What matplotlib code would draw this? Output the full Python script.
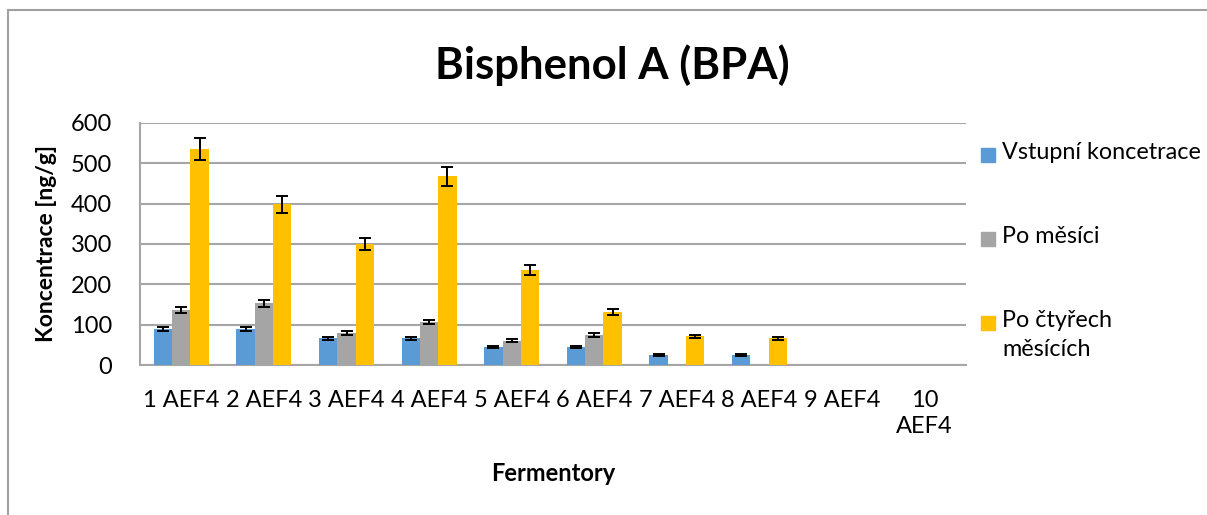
import numpy as np
import matplotlib
matplotlib.use('Agg')
from matplotlib import pyplot as plt
from matplotlib.patches import Rectangle
from matplotlib.lines import Line2D

plt.rcParams['font.family'] = ['Lato', 'DejaVu Sans']

# data
fermentors = ['1 AEF4', '2 AEF4', '3 AEF4', '4 AEF4', '5 AEF4',
              '6 AEF4', '7 AEF4', '8 AEF4', '9 AEF4', '10\nAEF4']
vstupni = [89, 89, 66, 66, 45, 45, 25, 25, np.nan, np.nan]
vstupni_err = [4, 4, 3, 3, 2, 2, 1.5, 1.5, np.nan, np.nan]
po_mesici = [136, 153, 80, 106, 60, 74, np.nan, np.nan, np.nan, np.nan]
po_mesici_err = [7, 8, 5, 5, 4, 5, np.nan, np.nan, np.nan, np.nan]
po_ctyrech = [536, 398, 300, 468, 235, 132, 71, 66, np.nan, np.nan]
po_ctyrech_err = [27, 20, 15, 23, 12, 7, 4, 4, np.nan, np.nan]

series = [
    ('Vstupní koncetrace', vstupni, vstupni_err, '#5B9BD5'),
    ('Po měsíci', po_mesici, po_mesici_err, '#A5A5A5'),
    ('Po čtyřech\nměsících', po_ctyrech, po_ctyrech_err, '#FFC000'),
]

W, H = 1207, 515
fig = plt.figure(figsize=(W / 100, H / 100), dpi=100)
ax = fig.add_axes([140 / W, 1 - 365 / H, 826 / W, 242 / H])

# chart frame: only top and left edges are visible in the crop
fig.add_artist(Line2D([8 / W, 8 / W], [0, 1 - 10 / H], transform=fig.transFigure,
                      color='#A0A0A0', linewidth=1.5))
fig.add_artist(Line2D([8 / W, 1], [1 - 10 / H, 1 - 10 / H], transform=fig.transFigure,
                      color='#A0A0A0', linewidth=1.5))

x = np.arange(len(fermentors))
w = 0.222
for i, (name, vals, errs, col) in enumerate(series):
    ax.bar(x + (i - 1) * w, vals, w, yerr=errs, color=col, label=name,
           zorder=3, error_kw=dict(ecolor='black', elinewidth=1.4,
                                   capsize=4.3, capthick=1.4, zorder=4))

ax.set_xlim(-0.5, len(fermentors) - 0.5)
ax.set_ylim(0, 600)
ax.set_yticks(range(0, 601, 100))
ax.set_xticks(x)
ax.set_xticklabels(fermentors, linespacing=1.3, va='top')
ax.tick_params(axis='both', length=0, labelsize=17)
ax.tick_params(axis='x', pad=18)
ax.tick_params(axis='y', pad=20)

ax.grid(axis='y', color='#A6A6A6', linewidth=1.5, zorder=0)
for s in ['top', 'right']:
    ax.spines[s].set_visible(False)
for s in ['left', 'bottom']:
    ax.spines[s].set_color('#A6A6A6')
    ax.spines[s].set_linewidth(1.5)

ax.set_ylabel('Koncentrace [ng/g]', fontsize=16.5, fontweight='bold', labelpad=10)
ax.set_xlabel('Fermentory', fontsize=17, fontweight='bold', labelpad=18)
fig.text(612 / W, 1 - 65 / H, 'Bisphenol A (BPA)', fontsize=31.5, fontweight='bold',
         ha='center', va='center')

# legend: square marker next to the first line of each label
legend_y = [155, 239, 323]
for (name, vals, errs, col), ly in zip(series, legend_y):
    fig.patches.append(Rectangle((981 / W, 1 - (ly + 7) / H), 14 / W, 14 / H,
                                 transform=fig.transFigure, color=col))
    fig.text(1002 / W, 1 - (ly - 13) / H, name, fontsize=16.8, ha='left', va='top',
             linespacing=1.45)

plt.savefig('out.png', dpi=100)
